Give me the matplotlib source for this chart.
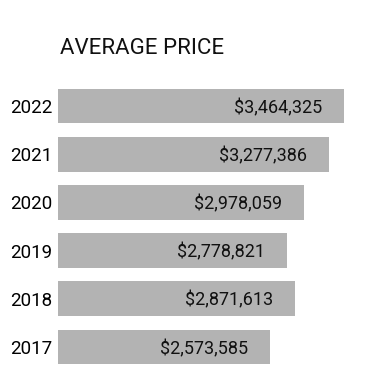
import matplotlib.pyplot as plt

years = ["2017", "2018", "2019", "2020", "2021", "2022"]
prices = [2573585, 2871613, 2778821, 2978059, 3277386, 3464325]

plt.rcParams['font.family'] = ['Roboto', 'DejaVu Sans']

fig = plt.figure(figsize=(3.75, 3.75), dpi=100)
ax = fig.add_axes([58 / 375, 4 / 375, 307 / 375, 289 / 375])

ax.barh(range(len(years)), prices, height=0.72, color="#b3b3b3")
ax.set_xlim(0, max(prices) * 307 / 286)
ax.set_ylim(-0.5, len(years) - 0.5)

for i, p in enumerate(prices):
    ax.annotate(f"${p:,}", (p, i), xytext=(-22, 0), textcoords="offset pixels",
                ha="right", va="center_baseline", fontsize=13, color="#111111")

ax.set_yticks(range(len(years)))
ax.set_yticklabels(years, fontsize=13.5)
ax.tick_params(axis="y", length=0, pad=4)
ax.set_xticks([])
for s in ax.spines.values():
    s.set_visible(False)

fig.text(60 / 375, 1 - 54 / 375, "AVERAGE PRICE", fontsize=16, color="#111111",
         ha="left", va="baseline")

plt.savefig("out.png", dpi=100)
